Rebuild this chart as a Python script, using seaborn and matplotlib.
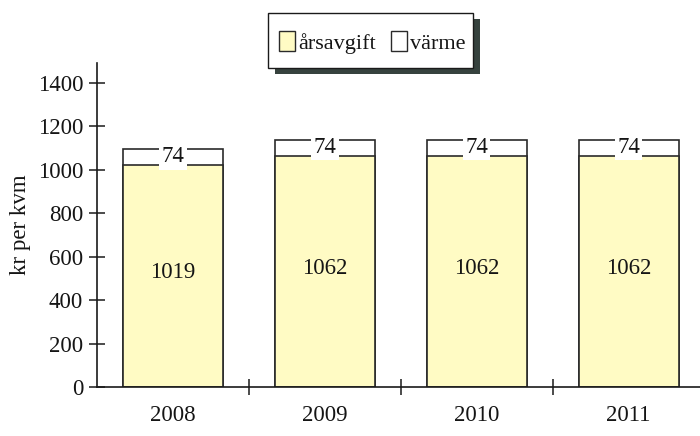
import matplotlib
matplotlib.use("Agg")
import matplotlib.pyplot as plt
import seaborn as sns
import pandas as pd
from matplotlib.patches import Patch, Rectangle

years = ["2008", "2009", "2010", "2011"]
arsavgift = [1019, 1062, 1062, 1062]
varme = [74, 74, 74, 74]
series_names = ["årsavgift", "värme"]
yticks = [0, 200, 400, 600, 800, 1000, 1200, 1400]

sns.set_theme(style="white")
plt.rcParams["font.family"] = ["Liberation Serif", "DejaVu Serif"]

yellow = "#FFFBC4"
edge = "#2a2a2a"
txt = "#151515"
fs = 16.5

df = pd.DataFrame({"year": years, "arsavgift": arsavgift,
                   "total": [a + b for a, b in zip(arsavgift, varme)]})

fig = plt.figure(figsize=(7, 4.36), dpi=100)
ax = fig.add_axes([0.1386, 0.1124, 0.868, 0.7431])

sns.barplot(data=df, x="year", y="total", color="white", edgecolor=edge,
            linewidth=1.2, width=0.66, saturation=1, ax=ax)
sns.barplot(data=df, x="year", y="arsavgift", color=yellow, edgecolor=edge,
            linewidth=1.2, width=0.66, saturation=1, ax=ax)

for i, (a, b) in enumerate(zip(arsavgift, varme)):
    ax.text(i, a / 2 + 15, str(a), ha="center", va="center", fontsize=fs,
            color=txt)
    ax.text(i, a + b / 2 + 2, str(b), ha="center", va="center", fontsize=fs,
            color=txt,
            bbox=dict(boxstyle="square,pad=0.1", facecolor="white", edgecolor="none"))

ax.set_xlim(-0.5, 3.5)
ax.set_ylim(0, 1490)
ax.set_yticks(yticks)
ax.set_yticklabels([str(v) for v in yticks])
ax.set_xlabel("")
ax.set_ylabel("kr per kvm", fontsize=fs, labelpad=5, color=txt)

for s in ["top", "right"]:
    ax.spines[s].set_visible(False)
for s in ["left", "bottom"]:
    ax.spines[s].set_color("#1a1a1a")
    ax.spines[s].set_linewidth(1.2)

ax.tick_params(axis="y", which="major", direction="inout", length=12, width=1.1,
               color="#1a1a1a", labelsize=fs, labelcolor=txt, pad=4, left=True)
ax.tick_params(axis="x", which="major", length=0, labelsize=fs, labelcolor=txt, pad=13)
ax.set_xticks([0.5, 1.5, 2.5], minor=True)
ax.tick_params(axis="x", which="minor", direction="inout", length=12, width=1.1,
               color="#1a1a1a", bottom=True)

# legend frame with hard shadow
W, H = 700.0, 436.0
fx0, fx1, fy0, fy1 = 268 / W, 473 / W, 1 - 68 / H, 1 - 13 / H
fig.patches.append(Rectangle((fx0 + 7 / W, fy0 - 6 / H), fx1 - fx0, fy1 - fy0,
                             transform=fig.transFigure, facecolor="#36423e",
                             edgecolor="none", zorder=1))
fig.patches.append(Rectangle((fx0, fy0), fx1 - fx0, fy1 - fy0,
                             transform=fig.transFigure, facecolor="white",
                             edgecolor="#1a1a1a", linewidth=1.0, zorder=2))

handles = [Patch(facecolor=yellow, edgecolor=edge, linewidth=1.0),
           Patch(facecolor="white", edgecolor=edge, linewidth=1.0)]
leg = fig.legend(handles, series_names, loc="center", bbox_to_anchor=(0.532, 0.902),
                 ncol=2, fontsize=16, frameon=False,
                 handlelength=0.7, handleheight=1.0, handletextpad=0.15,
                 columnspacing=0.7, borderpad=0.2, borderaxespad=0)
leg.set_zorder(5)
for t in leg.get_texts():
    t.set_color(txt)

fig.savefig("out.png", dpi=100)
